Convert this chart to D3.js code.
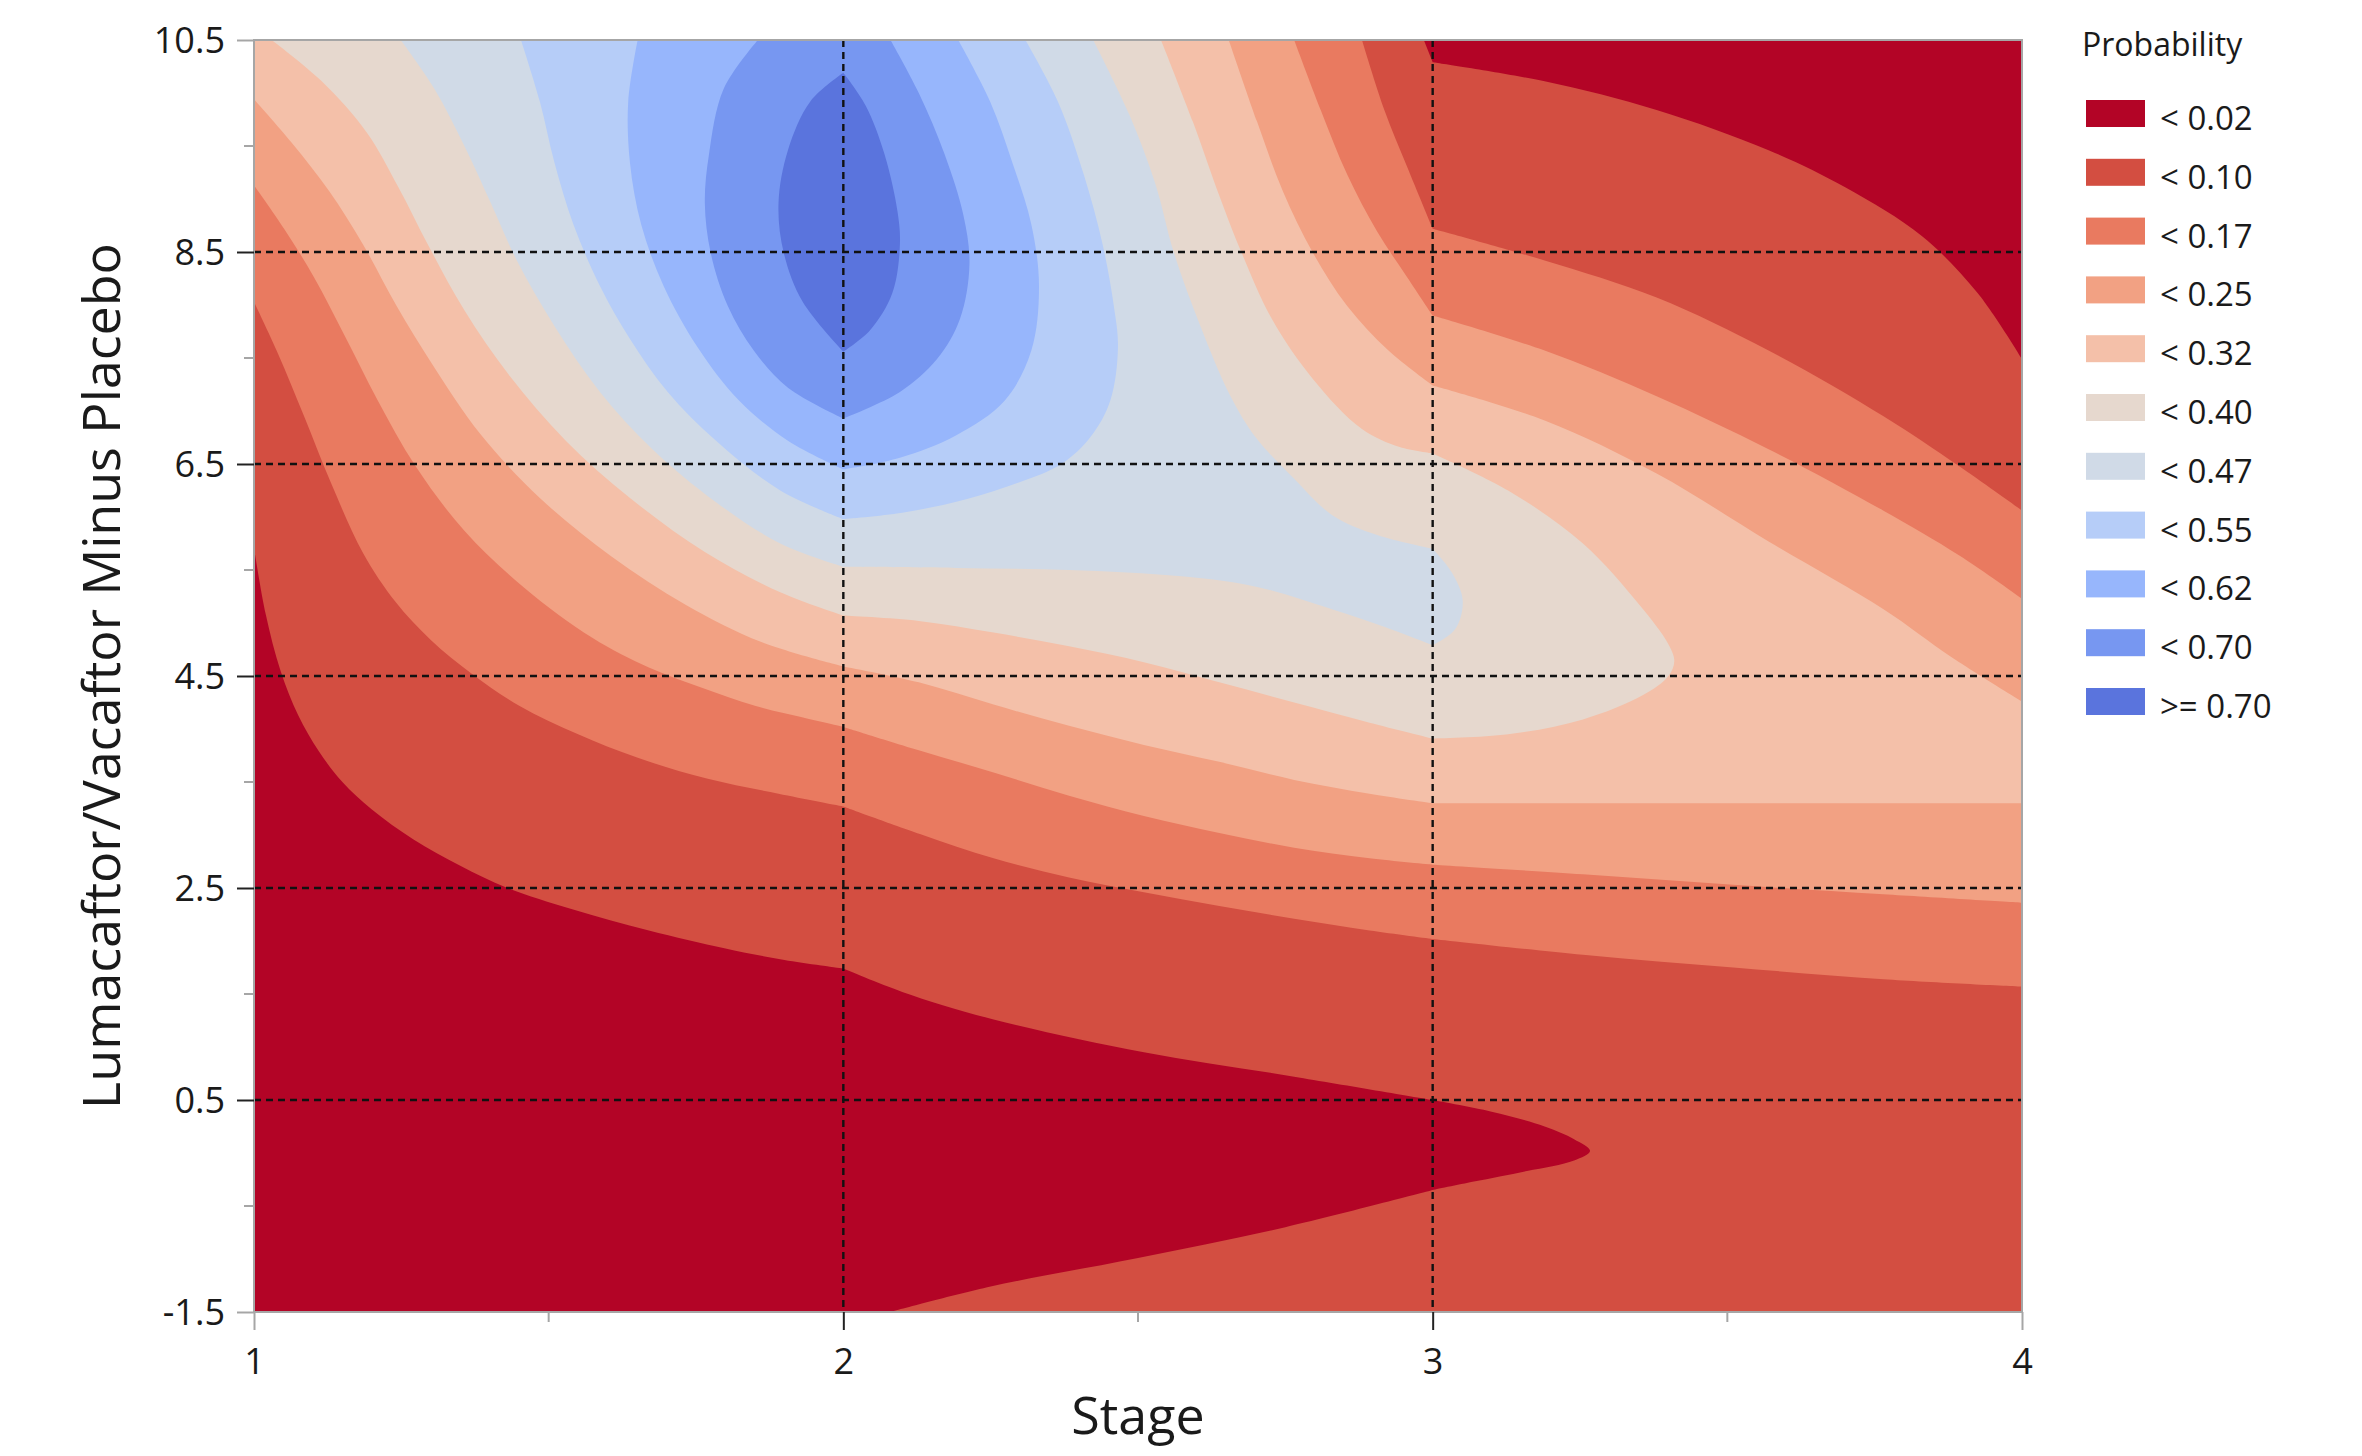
<!DOCTYPE html>
<html>
<head>
<meta charset="utf-8">
<script src="https://cdn.jsdelivr.net/npm/d3@7"></script>
<style>
  body { margin: 0; background: #fff; }
  text { font-family: "Segoe UI", "Open Sans", "Noto Sans", sans-serif; fill: #1a1a1a; }
</style>
</head>
<body>
<div id="chart"></div>
<script>
// Axis ticks and grid
const stageTicks = [1, 2, 3, 4];
const stageMinor = [1.5, 2.5, 3.5];
const diffTicks = [10.5, 8.5, 6.5, 4.5, 2.5, 0.5, -1.5];
const diffMinor = [9.5, 7.5, 5.5, 3.5, 1.5, -0.5];
const gridStage = [2, 3];
const gridDiff = [8.5, 6.5, 4.5, 2.5, 0.5];

// Contour levels, legend labels and band colours (lowest band first)
const levels = [0.02, 0.10, 0.17, 0.25, 0.32, 0.40, 0.47, 0.55, 0.62, 0.70];
const legendLabels = ["< 0.02", "< 0.10", "< 0.17", "< 0.25", "< 0.32", "< 0.40",
                      "< 0.47", "< 0.55", "< 0.62", "< 0.70", ">= 0.70"];
const bandColors = ["#b30426", "#d34e41", "#e97a60", "#f2a183", "#f4c0a9", "#e6d8ce",
                    "#d0dae7", "#b6cdf8", "#97b6fc", "#7797f1", "#5a74dd"];

// Contour lines as [stage, difference] points.
// Each contour is split into runs at stage 2 and 3, where the surface has a kink.
const c002Lower = [
  [[1,5.71],[1.02,5.08],[1.045,4.55],[1.075,4.13],[1.11,3.79],[1.15,3.50],[1.2,3.24],[1.27,2.96],[1.35,2.71],[1.43,2.50],[1.54,2.30],[1.67,2.10],[1.8,1.93],[1.9,1.82],[2,1.74]],
  [[2,1.74],[2.1,1.52],[2.255,1.26],[2.51,0.95],[2.765,0.72],[3,0.50]],
  [[3,0.50],[3.1,0.39],[3.19,0.25],[3.24,0.13],[3.267,0.02],[3.24,-0.07],[3.16,-0.17],[3.07,-0.27],[3,-0.35]],
  [[3,-0.35],[2.75,-0.70],[2.5,-0.99],[2.25,-1.26],[2.08,-1.5]]
];
const c002Upper = [
  [[2.985,10.5],[3,10.29]],
  [[3,10.29],[3.19,10.11],[3.38,9.84],[3.57,9.46],[3.7,9.11],[3.83,8.65],[3.925,8.11],[4,7.49]]
];
const c010Lower = [
  [[1,8.03],[1.04,7.55],[1.085,6.95],[1.13,6.33],[1.185,5.66],[1.24,5.2],[1.3,4.84],[1.37,4.52],[1.45,4.22],[1.55,3.95],[1.65,3.73],[1.77,3.53],[1.89,3.39],[2,3.27]],
  [[2,3.27],[2.13,3.01],[2.255,2.78],[2.383,2.6],[2.51,2.46],[2.638,2.33],[2.765,2.21],[2.893,2.1],[3,2.02]],
  [[3,2.02],[3.255,1.87],[3.51,1.75],[3.765,1.64],[4,1.57]]
];
const c010Upper = [
  [[2.88,10.5],[2.918,9.84],[2.957,9.3],[3,8.72]],
  [[3,8.72],[3.19,8.42],[3.38,8.07],[3.57,7.57],[3.765,6.95],[3.893,6.48],[4,6.06]]
];
const c017Lower = [
  [[1,9.13],[1.051,8.72],[1.102,8.26],[1.153,7.72],[1.21,7.1],[1.274,6.48],[1.357,5.87],[1.459,5.33],[1.574,4.86],[1.67,4.58],[1.76,4.39],[1.85,4.22],[1.93,4.11],[2,4.02]],
  [[2,4.02],[2.128,3.8],[2.255,3.59],[2.383,3.37],[2.51,3.18],[2.638,3.02],[2.765,2.88],[2.893,2.78],[3,2.72]],
  [[3,2.72],[3.255,2.63],[3.51,2.53],[3.765,2.44],[4,2.36]]
];
const c017Upper = [
  [[2.765,10.5],[2.81,9.84],[2.855,9.23],[2.906,8.69],[2.957,8.26],[3,7.9]],
  [[3,7.9],[3.19,7.57],[3.38,7.14],[3.57,6.64],[3.765,6.06],[3.893,5.64],[4,5.23]]
];
const c025Lower = [
  [[1,9.94],[1.064,9.53],[1.128,9.07],[1.185,8.57],[1.242,7.99],[1.306,7.41],[1.383,6.79],[1.485,6.18],[1.606,5.63],[1.733,5.17],[1.861,4.82],[2,4.59]],
  [[2,4.59],[2.128,4.44],[2.255,4.23],[2.383,4.03],[2.51,3.85],[2.638,3.69],[2.765,3.52],[2.893,3.39],[3,3.3]],
  [[3,3.3],[4,3.3]]
];
const c025Upper = [
  [[2.654,10.5],[2.702,9.73],[2.746,9.07],[2.797,8.49],[2.855,7.99],[2.925,7.57],[3,7.24]],
  [[3,7.24],[3.19,6.91],[3.38,6.41],[3.57,5.77],[3.765,5.13],[3.88,4.68],[4,4.26]]
];
const c032 = [
  [[1.03,10.5],[1.115,10.11],[1.191,9.63],[1.245,9.11],[1.295,8.57],[1.357,7.95],[1.434,7.33],[1.529,6.72],[1.638,6.18],[1.765,5.67],[1.893,5.29],[2,5.07]],
  [[2,5.07],[2.128,5.02],[2.255,4.91],[2.383,4.78],[2.51,4.63],[2.638,4.44],[2.765,4.25],[2.893,4.06],[3,3.91]],
  [[3,3.91],[3.128,3.95],[3.255,4.09],[3.357,4.32],[3.4,4.5],[3.41,4.64],[3.4,4.8],[3.351,5.17],[3.255,5.75],[3.128,6.25],[3,6.6]],
  [[3,6.6],[2.944,6.66],[2.88,6.83],[2.797,7.3],[2.727,7.87],[2.676,8.49],[2.638,9.03],[2.593,9.73],[2.539,10.5]]
];
const c040 = [
  [[1.249,10.5],[1.306,10.04],[1.357,9.5],[1.402,8.96],[1.446,8.42],[1.51,7.8],[1.587,7.18],[1.676,6.64],[1.784,6.14],[1.893,5.75],[2,5.53]],
  [[2,5.53],[2.191,5.52],[2.383,5.5],[2.574,5.44],[2.702,5.34],[2.829,5.13],[2.92,4.96],[3,4.79]],
  [[3,4.79],[3.038,4.94],[3.051,5.21],[3.032,5.48],[3,5.7]],
  [[3,5.7],[2.906,5.83],[2.829,6.02],[2.765,6.36],[2.7,6.75],[2.657,7.14],[2.606,7.8],[2.561,8.49],[2.529,9.15],[2.485,9.8],[2.424,10.5]]
];
const c047 = [
  [[1.453,10.5],[1.485,9.92],[1.51,9.34],[1.542,8.76],[1.587,8.18],[1.638,7.68],[1.702,7.18],[1.784,6.72],[1.893,6.25],[2,5.98]],
  [[2,5.98],[2.1,6.04],[2.21,6.17],[2.3,6.33],[2.37,6.5],[2.42,6.76],[2.453,7.1],[2.466,7.6],[2.459,7.99],[2.44,8.57],[2.408,9.23],[2.364,9.92],[2.309,10.5]]
];
const c055 = [
  [[1.651,10.5],[1.635,9.92],[1.638,9.34],[1.657,8.76],[1.695,8.18],[1.753,7.6],[1.823,7.1],[1.906,6.72],[2,6.45]],
  [[2,6.45],[2.096,6.56],[2.191,6.77],[2.274,7.1],[2.319,7.57],[2.332,8.18],[2.319,8.76],[2.287,9.34],[2.249,9.92],[2.195,10.5]]
];
const c062 = [
  [[1.855,10.5],[1.797,10.04],[1.772,9.42],[1.765,8.96],[1.775,8.49],[1.804,7.99],[1.848,7.57],[1.906,7.22],[2,6.93]],
  [[2,6.93],[2.096,7.18],[2.159,7.49],[2.198,7.87],[2.214,8.38],[2.204,8.84],[2.172,9.42],[2.128,10.0],[2.08,10.5]]
];
const c070 = [
  [[2,10.19],[1.944,9.92],[1.906,9.46],[1.89,8.96],[1.899,8.49],[1.931,8.03],[2,7.56]],
  [[2,7.56],[2.045,7.76],[2.083,8.11],[2.096,8.57],[2.092,8.88],[2.07,9.42],[2.038,9.88],[2,10.19]]
];

// Page layout
const W = 2362, H = 1456;
const plot = {left: 254, right: 2022, top: 40, bottom: 1312};

const svg = d3.select("#chart").append("svg")
    .attr("width", W)
    .attr("height", H)
    .style("background", "#fff");

const x = d3.scaleLinear().domain([1, 4]).range([plot.left, plot.right]);
const y = d3.scaleLinear().domain([-1.5, 10.5]).range([plot.bottom, plot.top]);

const [sMin, sMax] = x.domain();
const [dMin, dMax] = y.domain();

// Contour runs are smoothed; corners between runs stay sharp
const line = d3.line()
    .x(d => x(d[0]))
    .y(d => y(d[1]))
    .curve(d3.curveCatmullRom.alpha(0.5));

function rev(runs) {
  return runs.slice().reverse().map(r => r.slice().reverse());
}

function runsPath(runs) {
  return runs.map((r, i) => {
    const s = r.length > 1 ? line(r) : `M${x(r[0][0])},${y(r[0][1])}`;
    return i === 0 ? s : "L" + s.slice(1);
  }).join("") + "Z";
}

// Region where probability >= each level, painted from low to high
const topLeft = [[sMin, dMax]];
const regions = [
  [...c002Lower, [[sMax, dMin]], ...rev(c002Upper), topLeft],
  [...c010Lower, ...rev(c010Upper), topLeft],
  [...c017Lower, ...rev(c017Upper), topLeft],
  [...c025Lower, ...rev(c025Upper), topLeft],
  c032, c040, c047, c055, c062, c070
];

svg.append("clipPath").attr("id", "plotClip")
  .append("rect")
    .attr("x", plot.left).attr("y", plot.top)
    .attr("width", plot.right - plot.left)
    .attr("height", plot.bottom - plot.top);

const g = svg.append("g").attr("clip-path", "url(#plotClip)");

g.append("rect")
    .attr("x", plot.left).attr("y", plot.top)
    .attr("width", plot.right - plot.left)
    .attr("height", plot.bottom - plot.top)
    .attr("fill", bandColors[0]);

g.selectAll(".band")
  .data(regions)
  .enter()
  .append("path")
    .attr("class", "band")
    .attr("d", d => runsPath(d))
    .attr("fill", (d, i) => bandColors[i + 1]);

// Dashed reference grid
g.selectAll(".hgrid")
  .data(gridDiff)
  .enter()
  .append("line")
    .attr("x1", plot.left).attr("x2", plot.right)
    .attr("y1", d => y(d)).attr("y2", d => y(d))
    .attr("stroke", "#111").attr("stroke-width", 2.4)
    .attr("stroke-dasharray", "7,5");

g.selectAll(".vgrid")
  .data(gridStage)
  .enter()
  .append("line")
    .attr("y1", plot.top).attr("y2", plot.bottom)
    .attr("x1", d => x(d)).attr("x2", d => x(d))
    .attr("stroke", "#111").attr("stroke-width", 2.4)
    .attr("stroke-dasharray", "7,5");

// Frame
svg.append("rect")
    .attr("x", plot.left).attr("y", plot.top)
    .attr("width", plot.right - plot.left)
    .attr("height", plot.bottom - plot.top)
    .attr("fill", "none")
    .attr("stroke", "#a6a6a6")
    .attr("stroke-width", 2);

// Y axis
const yAxis = svg.append("g")
    .attr("transform", `translate(${plot.left},0)`)
    .call(d3.axisLeft(y).tickValues(diffTicks).tickSize(17).tickFormat(d => d.toFixed(1)));
yAxis.select(".domain").remove();
yAxis.selectAll(".tick line")
    .attr("stroke", d => gridDiff.includes(d) ? "#222" : "#a6a6a6")
    .attr("stroke-width", 2);
yAxis.selectAll(".tick text")
    .attr("x", -29)
    .attr("dy", "0.36em")
    .style("font-size", "36px");

svg.append("g")
  .selectAll("line")
  .data(diffMinor)
  .enter()
  .append("line")
    .attr("x1", plot.left - 10).attr("x2", plot.left)
    .attr("y1", d => y(d)).attr("y2", d => y(d))
    .attr("stroke", "#a6a6a6").attr("stroke-width", 2);

// X axis
const xAxis = svg.append("g")
    .attr("transform", `translate(0,${plot.bottom})`)
    .call(d3.axisBottom(x).tickValues(stageTicks).tickSize(18).tickFormat(d3.format("d")));
xAxis.select(".domain").remove();
xAxis.selectAll(".tick line")
    .attr("stroke", d => gridStage.includes(d) ? "#222" : "#a6a6a6")
    .attr("stroke-width", 2);
xAxis.selectAll(".tick text")
    .attr("y", 36)
    .attr("dy", "0.71em")
    .style("font-size", "36px");

svg.append("g")
  .selectAll("line")
  .data(stageMinor)
  .enter()
  .append("line")
    .attr("x1", d => x(d)).attr("x2", d => x(d))
    .attr("y1", plot.bottom).attr("y2", plot.bottom + 10)
    .attr("stroke", "#a6a6a6").attr("stroke-width", 2);

// Axis titles
svg.append("text")
    .attr("x", (plot.left + plot.right) / 2)
    .attr("y", 1434)
    .attr("text-anchor", "middle")
    .style("font-size", "52px")
    .text("Stage");

svg.append("text")
    .attr("transform", `translate(120,${(plot.top + plot.bottom) / 2}) rotate(-90)`)
    .attr("text-anchor", "middle")
    .style("font-size", "52px")
    .text("Lumacaftor/Vacaftor Minus Placebo");

// Legend
const legend = svg.append("g").attr("transform", "translate(2082,0)");
legend.append("text")
    .attr("x", 0).attr("y", 56)
    .style("font-size", "32px")
    .text("Probability");

const rows = legend.selectAll(".row")
  .data(legendLabels)
  .enter()
  .append("g")
    .attr("transform", (d, i) => `translate(0,${113 + i * 58.8})`);

rows.append("rect")
    .attr("x", 4).attr("y", -13)
    .attr("width", 59).attr("height", 27)
    .attr("fill", (d, i) => bandColors[i]);

rows.append("text")
    .attr("x", 78).attr("y", 17)
    .style("font-size", "33px")
    .text(d => d);
</script>
</body>
</html>
